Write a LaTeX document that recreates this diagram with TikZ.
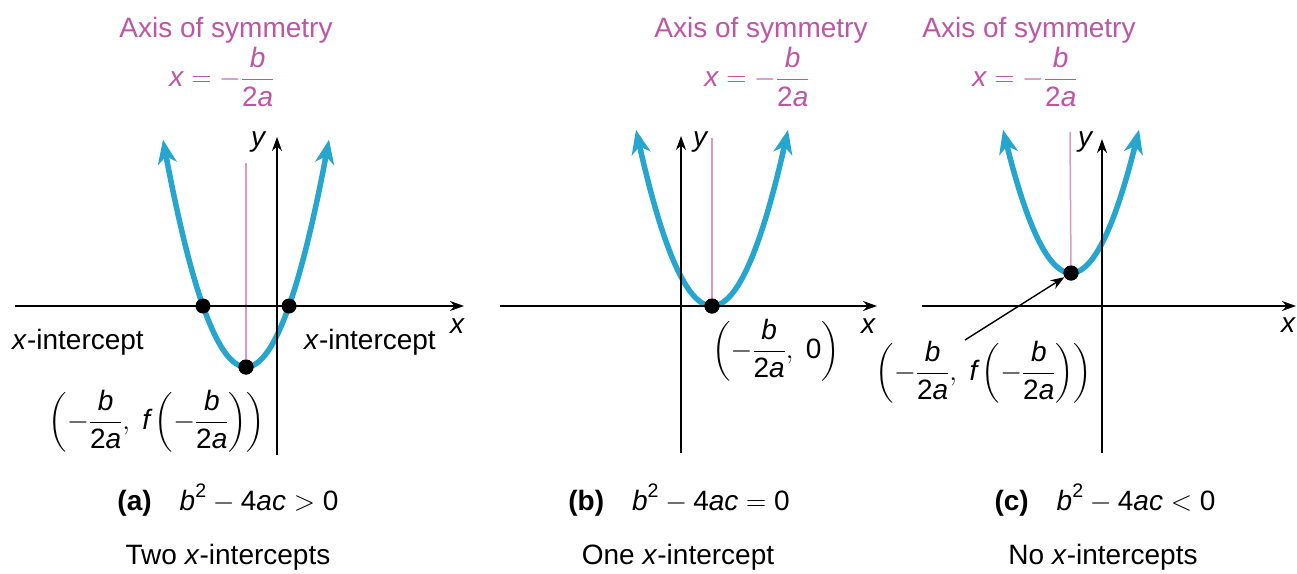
\RequirePackage{fix-cm}
\documentclass[tikz,border=0pt]{standalone}
\usepackage{amsmath}
\usepackage{fontspec}
\setmainfont{Liberation Sans}
\usetikzlibrary{arrows.meta}
\definecolor{curvecol}{RGB}{38,166,207}
\definecolor{pinktext}{RGB}{190,85,165}
\definecolor{pinkline}{RGB}{228,150,190}
\newcommand{\iv}[1]{\text{\itshape #1}}
\newcommand{\vfr}{\dfrac{\iv{b}}{\text{2\itshape a}}}
\begin{document}
\begin{tikzpicture}[x=1pt,y=-1pt,
  font=\fontsize{28}{34}\selectfont,
  axisline/.style={line width=1.4pt,-{Stealth[length=14pt,width=10pt]}},
  parab/.style={curvecol,line width=5.5pt,{Stealth[length=24pt,width=19pt,inset=7pt]}-{Stealth[length=24pt,width=19pt,inset=7pt]}},
  symline/.style={pinkline,line width=1.5pt},
  vdot/.style={circle,fill=black,inner sep=0pt,minimum size=15pt},
  pointer/.style={line width=1.4pt,-{Stealth[length=14pt,width=10pt]}},
  lbl/.style={inner sep=0pt},
  symtext/.style={pinktext,inner sep=0pt}]
\fill[white] (0,0) rectangle (1297,573);
\useasboundingbox (0,0) rectangle (1297,573);

% ---------- panel (a)
\draw[parab] plot[domain=-83:83,samples=60,smooth] ({246+\x},{367-0.033*\x*\x});
\coordinate (aA) at (246,163);
\node[vdot] (va) at (246,367) {};
\draw[symline] (aA) -- (va.center);
\coordinate (axL) at (15,306); \coordinate (axR) at (464,306);
\coordinate (ayB) at (277,455); \coordinate (ayT) at (277,137);
\draw[axisline] (axL) -- (axR);
\draw[axisline] (ayB) -- (ayT);
\node[vdot] (ia) at (203,306) {};
\node[vdot] (ib) at (289,306) {};
\node[vdot] at (246,367) {};
\node[lbl] (xa) at (457,326) {\itshape x};
\node[lbl] (ya) at (258,142) {\itshape y};
\node[lbl] (ila) at (78,342) {\textit{x}-intercept};
\node[lbl] (ilb) at (370,342) {\textit{x}-intercept};
\node[lbl] (vla) at (157,421) {$\left(-\vfr,\ \iv{f}\left(-\vfr\right)\right)$};
\node[symtext,anchor=base] (asa) at (226,37) {Axis of symmetry};
\node[symtext] (fa) at (222,77) {$\iv{x} = -\vfr$};
\node[lbl] (ca) at (228,500) {\textbf{(a)}\quad $\iv{b}^{\text{2}} - \text{4}\iv{ac} > \text{0}$};
\node[lbl] (ta) at (228,557) {Two \textit{x}-intercepts};

% ---------- panel (b)
\draw[parab] plot[domain=-76:76,samples=60,smooth] ({712+\x},{306-0.0305*\x*\x});
\coordinate (bA) at (712,138);
\node[vdot] (vb) at (712,306) {};
\draw[symline] (bA) -- (vb.center);
\coordinate (bxL) at (500,306); \coordinate (bxR) at (877,306);
\coordinate (byB) at (681,453); \coordinate (byT) at (681,136);
\draw[axisline] (bxL) -- (bxR);
\draw[axisline] (byB) -- (byT);
\node[vdot] at (712,306) {};
\node[lbl] (xb) at (868,326) {\itshape x};
\node[lbl] (yb) at (700,142) {\itshape y};
\node[lbl] (vlb) at (776,350) {$\left(-\vfr,\ \text{0}\right)$};
\node[symtext,anchor=base] (asb) at (761,37) {Axis of symmetry};
\node[symtext] (fb) at (757,77) {$\iv{x} = -\vfr$};
\node[lbl] (cb) at (679,500) {\textbf{(b)}\quad $\iv{b}^{\text{2}} - \text{4}\iv{ac} = \text{0}$};
\node[lbl] (tb) at (678,557) {One \textit{x}-intercept};

% ---------- panel (c)
\draw[parab] plot[domain=-68:68,samples=60,smooth] ({1071+\x},{273-0.031*\x*\x});
\coordinate (cA) at (1070,132);
\node[vdot] (vc) at (1071,273) {};
\draw[symline] (cA) -- (vc.center);
\coordinate (cxL) at (922,306); \coordinate (cxR) at (1296,306);
\coordinate (cyB) at (1102,453); \coordinate (cyT) at (1102,139);
\draw[axisline] (cxL) -- (cxR);
\draw[axisline] (cyB) -- (cyT);
\node[vdot] at (1071,273) {};
\node[lbl] (xc) at (1288,325) {\itshape x};
\node[lbl] (yc) at (1085,142) {\itshape y};
\node[lbl] (vlc) at (984,372) {$\left(-\vfr,\ \iv{f}\left(-\vfr\right)\right)$};
\coordinate (pc) at (965,340);
\draw[pointer] (pc) -- (vc);
\node[symtext,anchor=base] (asc) at (1029,37) {Axis of symmetry};
\node[symtext] (fc) at (1025,77) {$\iv{x} = -\vfr$};
\node[lbl] (cc) at (1105,500) {\textbf{(c)}\quad $\iv{b}^{\text{2}} - \text{4}\iv{ac} < \text{0}$};
\node[lbl] (tc) at (1103,557) {No \textit{x}-intercepts};
\end{tikzpicture}
\end{document}
